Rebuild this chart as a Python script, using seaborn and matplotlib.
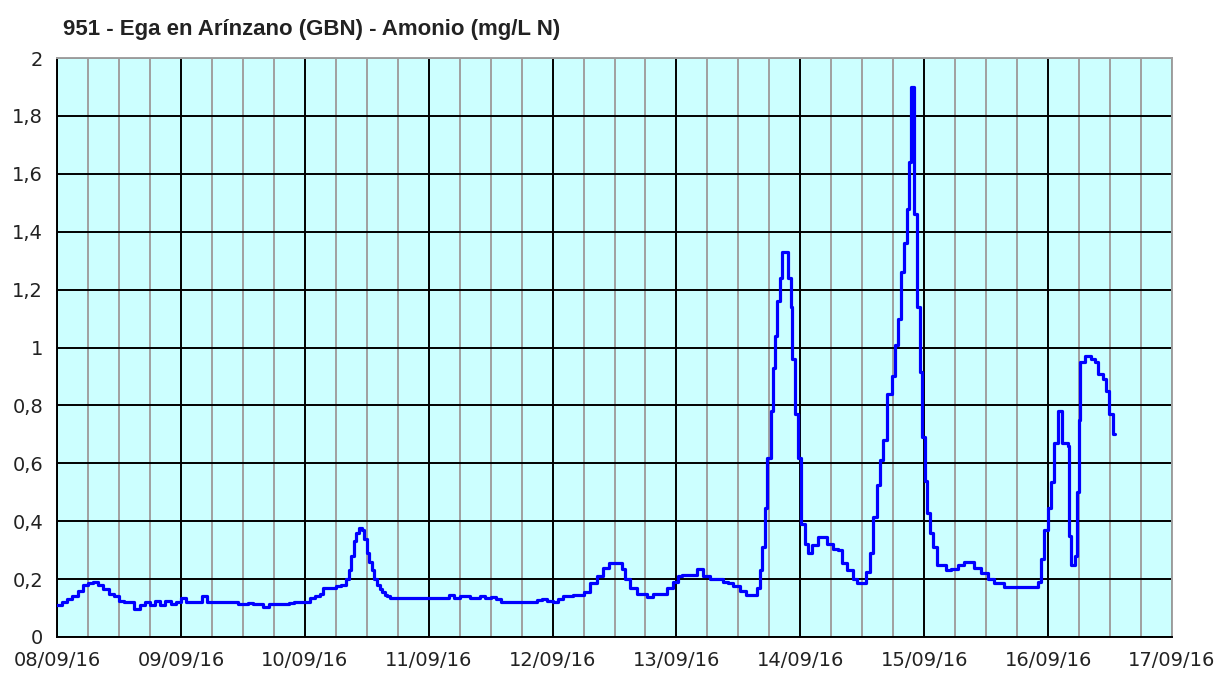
import numpy as np
import pandas as pd
import matplotlib
matplotlib.use("Agg")
import matplotlib.pyplot as plt
import matplotlib.dates as mdates
from matplotlib.ticker import FuncFormatter, MultipleLocator
import seaborn as sns

# ---- data (hours since 08/09/16 00:00, ammonium mg/L N) ----
hours = [
    0, 1, 2, 3, 4, 5, 6, 7, 8, 9, 10, 11, 12, 13, 14, 15, 16, 17, 18, 19, 20, 21, 22, 23,
    24, 25, 26, 27, 28, 29, 30, 31, 32, 33, 34, 35, 36, 37, 38, 39, 40, 41, 42, 43, 44, 45, 46, 47,
    48, 49, 50, 51, 51.5, 53, 54, 55, 56, 56.5, 57, 57.5, 58, 58.5, 59, 59.5, 60, 60.5, 61, 61.5,
    62, 62.5, 63, 63.5, 64, 64.5, 66, 68, 70,
    72, 74, 76, 77, 78, 79, 80, 82, 83, 84, 85, 86, 88, 90, 92, 93, 94, 95,
    96, 97, 98, 100, 102, 103.2, 104.6, 105.8, 107, 108.5, 109.4, 110, 111, 112.3, 114.3,
    115.4, 116.8, 118.2, 119.3, 120.3, 121, 123, 124, 125.1, 126.5, 128.4, 129, 130, 131,
    132.3, 133.5, 134.8, 135.6, 136.2, 136.6, 137.1, 137.5, 138.3, 138.7, 139.1, 139.5, 140,
    140.4, 141.6, 142.2, 142.4, 143, 143.5, 144.1, 144.9, 145.5, 146.2, 147.4, 148.2, 149.2,
    150.3, 151.3, 152, 153, 154.2, 155, 156.1, 156.7, 157.5, 158.1, 158.8, 159.4, 160, 160.8,
    161.7, 162.3, 162.9, 163.5, 164.1, 164.6, 165, 165.4, 166, 166.6, 167.2, 167.6, 168.1,
    168.5, 169.1, 169.7, 170.5, 171.6, 172.2, 173.2, 174.5, 175.7, 177, 177.6, 179, 180.3,
    181.5, 182.9, 183.4, 186, 189.6, 190, 190.6, 191.2, 192, 192.5, 193.1, 193.9, 194.7,
    195.8, 196, 196.4, 197, 197.2, 197.6, 198, 198.2, 199.1, 200.3, 201.1, 201.6, 202.6,
    203.2, 203.8, 204.5, 205,
]
values = [
    0.11, 0.12, 0.13, 0.14, 0.16, 0.18, 0.185, 0.19, 0.18, 0.165, 0.15, 0.14, 0.125, 0.12, 0.12, 0.095, 0.11, 0.12, 0.11, 0.125, 0.11, 0.125, 0.115, 0.12,
    0.135, 0.12, 0.12, 0.12, 0.14, 0.12, 0.12, 0.12, 0.12, 0.12, 0.12, 0.115, 0.115, 0.118, 0.115, 0.115, 0.105, 0.115, 0.115, 0.115, 0.115, 0.118, 0.12, 0.12,
    0.12, 0.135, 0.14, 0.15, 0.17, 0.17, 0.175, 0.18, 0.2, 0.23, 0.28, 0.33, 0.36, 0.375, 0.37, 0.34, 0.29, 0.26, 0.23, 0.2,
    0.18, 0.165, 0.155, 0.145, 0.14, 0.134, 0.134, 0.134, 0.134,
    0.134, 0.134, 0.145, 0.135, 0.142, 0.14, 0.134, 0.142, 0.134, 0.137, 0.13, 0.122, 0.122, 0.122, 0.122, 0.128, 0.13, 0.125,
    0.12, 0.13, 0.14, 0.145, 0.155, 0.185, 0.21, 0.24, 0.255, 0.255, 0.235, 0.20, 0.17, 0.15, 0.137,
    0.15, 0.15, 0.17, 0.19, 0.21, 0.215, 0.215, 0.235, 0.21, 0.20, 0.20, 0.19, 0.185, 0.175,
    0.16, 0.145, 0.145, 0.168, 0.23, 0.31, 0.445, 0.62, 0.78, 0.93, 1.04, 1.16, 1.24,
    1.33, 1.24, 1.14, 0.96, 0.77, 0.62, 0.39, 0.32, 0.29, 0.317, 0.345, 0.345, 0.32,
    0.305, 0.30, 0.255, 0.23, 0.20, 0.185, 0.185, 0.225, 0.29, 0.415, 0.525, 0.61, 0.68, 0.84,
    0.90, 1.01, 1.10, 1.26, 1.36, 1.48, 1.64, 1.90, 1.46, 1.14, 0.915, 0.69, 0.54,
    0.43, 0.36, 0.31, 0.25, 0.25, 0.23, 0.235, 0.25, 0.26, 0.26, 0.24, 0.22, 0.20,
    0.186, 0.186, 0.172, 0.172, 0.172, 0.19, 0.27, 0.37, 0.445, 0.535, 0.67, 0.78, 0.67,
    0.66, 0.35, 0.25, 0.25, 0.28, 0.50, 0.75, 0.95, 0.97, 0.96, 0.95, 0.91, 0.89,
    0.85, 0.77, 0.70, 0.70,
]

y_ticks = [0, 0.2, 0.4, 0.6, 0.8, 1.0, 1.2, 1.4, 1.6, 1.8, 2.0]
title = "951 - Ega en Arínzano (GBN) - Amonio (mg/L N)"

start = pd.Timestamp("2016-09-08")
df = pd.DataFrame({
    "time": start + pd.to_timedelta(hours, unit="h"),
    "value": values,
})

sns.set_style("white")
plt.rcParams["font.family"] = ["DejaVu Sans"]

fig = plt.figure(figsize=(12.17, 6.73), dpi=100)
ax = fig.add_axes([57 / 1217, 1 - 637 / 673, (1172 - 57) / 1217, (637 - 58) / 673])
ax.set_facecolor("#CCFFFF")

sns.lineplot(data=df, x="time", y="value", ax=ax, color="#0000FF", linewidth=2.3,
             estimator=None, drawstyle="steps-post", zorder=5)

ax.set_xlim(start, start + pd.Timedelta(days=9))
ax.set_ylim(0, 2)
ax.xaxis.set_major_locator(mdates.DayLocator())
ax.xaxis.set_minor_locator(mdates.HourLocator(byhour=[6, 12, 18]))
ax.xaxis.set_major_formatter(mdates.DateFormatter("%d/%m/%y"))
ax.set_yticks(y_ticks)
ax.yaxis.set_major_formatter(FuncFormatter(lambda v, p: ("%g" % round(v, 1)).replace(".", ",")))

ax.grid(False)
ax.grid(which="minor", axis="x", color="#A0A0A0", linewidth=1.4, zorder=1)
ax.grid(which="major", axis="x", color="#000000", linewidth=1.4, zorder=2)
ax.grid(which="major", axis="y", color="#000000", linewidth=1.4, zorder=2)
ax.set_axisbelow(True)

for side in ["left", "bottom"]:
    ax.spines[side].set_color("black")
    ax.spines[side].set_linewidth(1.4)
for side in ["top", "right"]:
    ax.spines[side].set_color("#A0A0A0")
    ax.spines[side].set_linewidth(1.4)

ax.tick_params(axis="both", which="major", direction="out", length=5, width=1.4,
               color="black", labelsize=14, labelcolor="#222222", pad=5)
ax.tick_params(axis="x", which="minor", length=0)
ax.set_xlabel("")
ax.set_ylabel("")

fig.text(63 / 1217, 1 - 29 / 673, title, fontsize=16, fontweight="bold",
         family=["Liberation Sans", "DejaVu Sans"], color="#222222", ha="left", va="center")

fig.savefig("out.png", dpi=100)
